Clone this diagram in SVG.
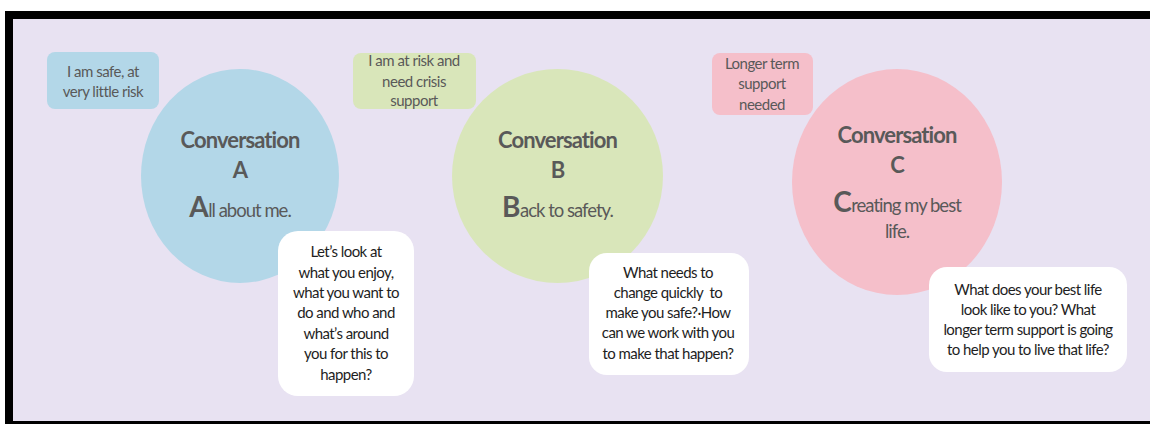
<svg xmlns="http://www.w3.org/2000/svg" width="1150" height="424" viewBox="0 0 1150 424">
  <style>
    .lbl { font-family: Lato, "Open Sans", sans-serif; font-size: 15px; letter-spacing: -0.5px; fill: #595959; text-anchor: middle; }
    .q { font-family: Lato, "Open Sans", sans-serif; font-size: 15px; letter-spacing: -0.55px; fill: #1e1e1e; text-anchor: middle; }
    .title { font-family: Lato, "Open Sans", sans-serif; font-size: 22px; letter-spacing: -0.9px; font-weight: bold; fill: #595959; text-anchor: middle; }
    .sub { font-family: Lato, "Open Sans", sans-serif; font-size: 18.5px; letter-spacing: -1px; fill: #595959; text-anchor: middle; }
    .cap { font-size: 28px; font-weight: bold; letter-spacing: -0.5px; }
    .card { fill: #ffffff; }
  </style>

  <!-- frame -->
  <rect x="0" y="0" width="1150" height="424" fill="#ffffff"/>
  <rect x="5" y="11" width="1145" height="413" fill="#000000"/>
  <rect x="13" y="19" width="1137" height="402" fill="#e8e2f2"/>

  <!-- Conversation A -->
  <g id="conv-a">
    <ellipse cx="240" cy="176" rx="99" ry="107" fill="#b3d7e8"/>
    <text class="title" x="240" y="148">Conversation</text>
    <text class="title" x="240" y="178">A</text>
    <text class="sub" x="240" y="217"><tspan class="cap">A</tspan>ll about me.</text>
  </g>
  <g id="label-a">
    <rect x="47" y="52" width="112" height="57" rx="8" fill="#b3d7e8"/>
    <text class="lbl" x="103" y="77">I am safe, at</text>
    <text class="lbl" x="103" y="97">very little risk</text>
  </g>
  <g id="question-a">
    <rect class="card" x="278" y="231" width="136" height="165" rx="20"/>
    <text class="q" x="346" y="257">Let’s look at</text>
    <text class="q" x="346" y="278">what you enjoy,</text>
    <text class="q" x="346" y="298">what you want to</text>
    <text class="q" x="346" y="318">do and who and</text>
    <text class="q" x="346" y="339">what’s around</text>
    <text class="q" x="346" y="359">you for this to</text>
    <text class="q" x="346" y="380">happen?</text>
  </g>

  <!-- Conversation B -->
  <g id="conv-b">
    <ellipse cx="557.5" cy="176" rx="105.5" ry="107" fill="#d9e6ba"/>
    <text class="title" x="557.5" y="148">Conversation</text>
    <text class="title" x="557.5" y="178">B</text>
    <text class="sub" x="557.5" y="217"><tspan class="cap">B</tspan>ack to safety.</text>
  </g>
  <g id="label-b">
    <rect x="353" y="53" width="123" height="56" rx="8" fill="#d9e6ba"/>
    <text class="lbl" x="414" y="66">I am at risk and</text>
    <text class="lbl" x="414" y="87">need crisis</text>
    <text class="lbl" x="414" y="106">support</text>
  </g>
  <g id="question-b">
    <rect class="card" x="589" y="253" width="160" height="122" rx="18"/>
    <text class="q" x="668" y="278">What needs to</text>
    <text class="q" x="668" y="298" xml:space="preserve">change quickly  to</text>
    <text class="q" x="668" y="318">make you safe?·How</text>
    <text class="q" x="668" y="338">can we work with you</text>
    <text class="q" x="668" y="359">to make that happen?</text>
  </g>

  <!-- Conversation C -->
  <g id="conv-c">
    <ellipse cx="897" cy="182" rx="105" ry="113" fill="#f5bfca"/>
    <text class="title" x="897" y="143">Conversation</text>
    <text class="title" x="897" y="173">C</text>
    <text class="sub" x="897" y="212"><tspan class="cap">C</tspan>reating my best</text>
    <text class="sub" x="897" y="238">life.</text>
  </g>
  <g id="label-c">
    <rect x="712" y="53" width="101" height="62" rx="8" fill="#f5bfca"/>
    <text class="lbl" x="762" y="69">Longer term</text>
    <text class="lbl" x="762" y="89">support</text>
    <text class="lbl" x="762" y="110">needed</text>
  </g>
  <g id="question-c">
    <rect class="card" x="929" y="267" width="198" height="105" rx="18"/>
    <text class="q" x="1028" y="295">What does your best life</text>
    <text class="q" x="1028" y="315">look like to you? What</text>
    <text class="q" x="1028" y="335">longer term support is going</text>
    <text class="q" x="1028" y="355">to help you to live that life?</text>
  </g>

  <g id="connectors"></g>
</svg>
